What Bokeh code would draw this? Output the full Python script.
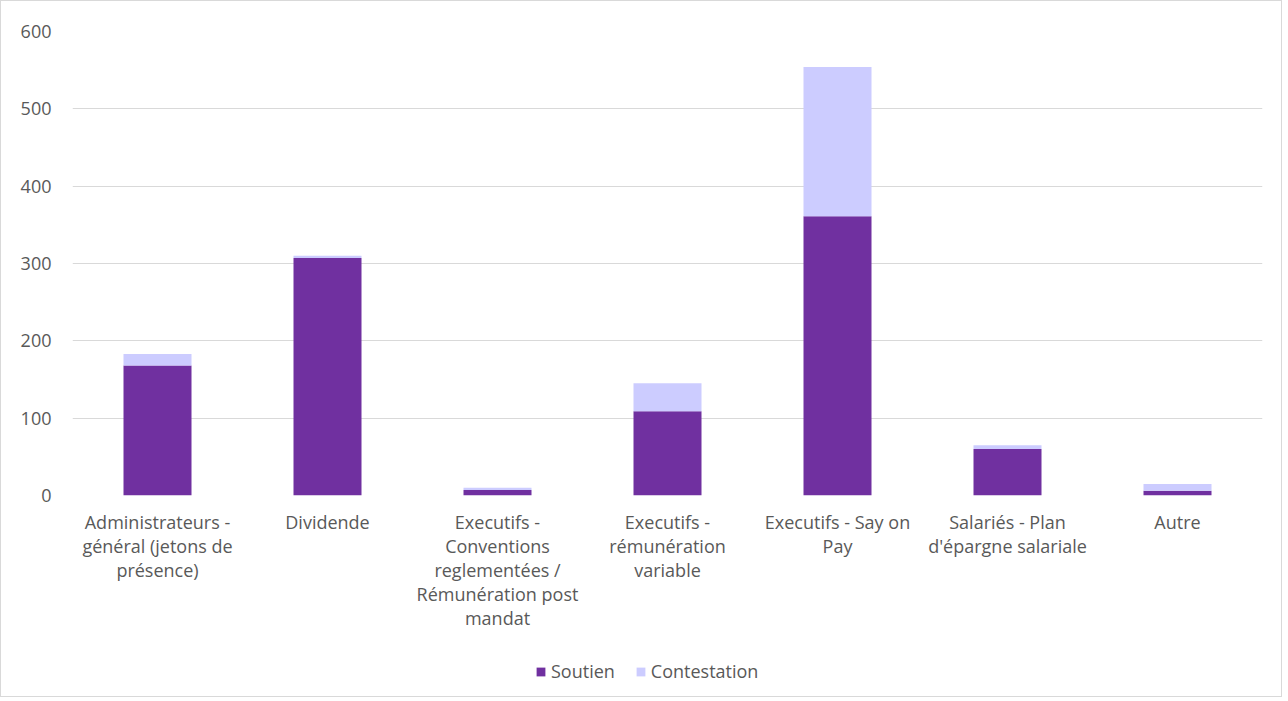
from bokeh.plotting import figure
from bokeh.layouts import column
from bokeh.models import ColumnDataSource, FactorRange, Range1d, FixedTicker, Legend, LegendItem
from bokeh.embed import file_html
from bokeh.resources import INLINE

categories = [
    "Administrateurs -\ngénéral (jetons de\nprésence)",
    "Dividende",
    "Executifs -\nConventions\nreglementées /\nRémunération post\nmandat",
    "Executifs -\nrémunération\nvariable",
    "Executifs - Say on\nPay",
    "Salariés - Plan\nd'épargne salariale",
    "Autre",
]
soutien = [168, 307, 7, 109, 361, 60, 6]
contestation = [15, 3, 3, 36, 193, 5, 9]
y_ticks = [0, 100, 200, 300, 400, 500, 600]
series_names = ["Soutien", "Contestation"]
colors = ["#7030A0", "#CCCCFF"]

FONT = "Open Sans"
TXT = "#595959"

source = ColumnDataSource(dict(cat=categories, soutien=soutien, contestation=contestation))
xr = FactorRange(*categories, range_padding=0)

p = figure(
    x_range=xr,
    y_range=Range1d(0, 600),
    width=1280, height=640,
    output_backend="svg", toolbar_location=None,
    min_border_left=71, min_border_right=19, min_border_top=30, min_border_bottom=146,
)

rs = p.vbar_stack(["soutien", "contestation"], x="cat", width=0.4, color=colors,
                  line_color=None, source=source)

p.outline_line_color = None
p.xgrid.grid_line_color = None
p.ygrid.grid_line_color = "#d9d9d9"
p.ygrid.grid_line_width = 1
p.yaxis.ticker = FixedTicker(ticks=y_ticks)

for ax in (p.xaxis, p.yaxis):
    ax.axis_line_color = None
    ax.major_tick_line_color = None
    ax.minor_tick_line_color = None
    ax.major_label_text_font = FONT
    ax.major_label_text_font_size = "18px"
    ax.major_label_text_color = TXT

p.yaxis.major_label_standoff = 15
p.xaxis.major_label_standoff = 8
p.xaxis.major_label_text_line_height = 1.0
p.xaxis.major_label_orientation = "horizontal"

# legend strip below the chart: same stacked series, hidden, so that only
# the legend swatches are visible
leg_fig = figure(width=1280, height=55, output_backend="svg", toolbar_location=None,
                 x_axis_location=None, y_axis_location=None,
                 min_border=0, x_range=xr, y_range=Range1d(-2, -1))
leg_fig.outline_line_color = None
leg_fig.grid.visible = False
leg_rs = leg_fig.vbar_stack(["soutien", "contestation"], x="cat", width=0.4, color=colors,
                            line_color=None, source=source)
for r in leg_rs:
    r.visible = False

legend = Legend(
    items=[LegendItem(label=series_names[0], renderers=[leg_rs[0]]),
           LegendItem(label=series_names[1], renderers=[leg_rs[1]])],
    orientation="horizontal", location=(463, 13),
    label_text_font=FONT, label_text_font_size="18px", label_text_color=TXT,
    glyph_width=11, glyph_height=11, spacing=20, label_standoff=5,
    border_line_color=None, background_fill_alpha=0, padding=4, margin=0,
    inactive_fill_alpha=0,
)
leg_fig.add_layout(legend, "center")

layout = column(p, leg_fig, spacing=0, styles={"border": "1px solid #d9d9d9"})

open("out.html", "w").write(file_html(layout, INLINE))
